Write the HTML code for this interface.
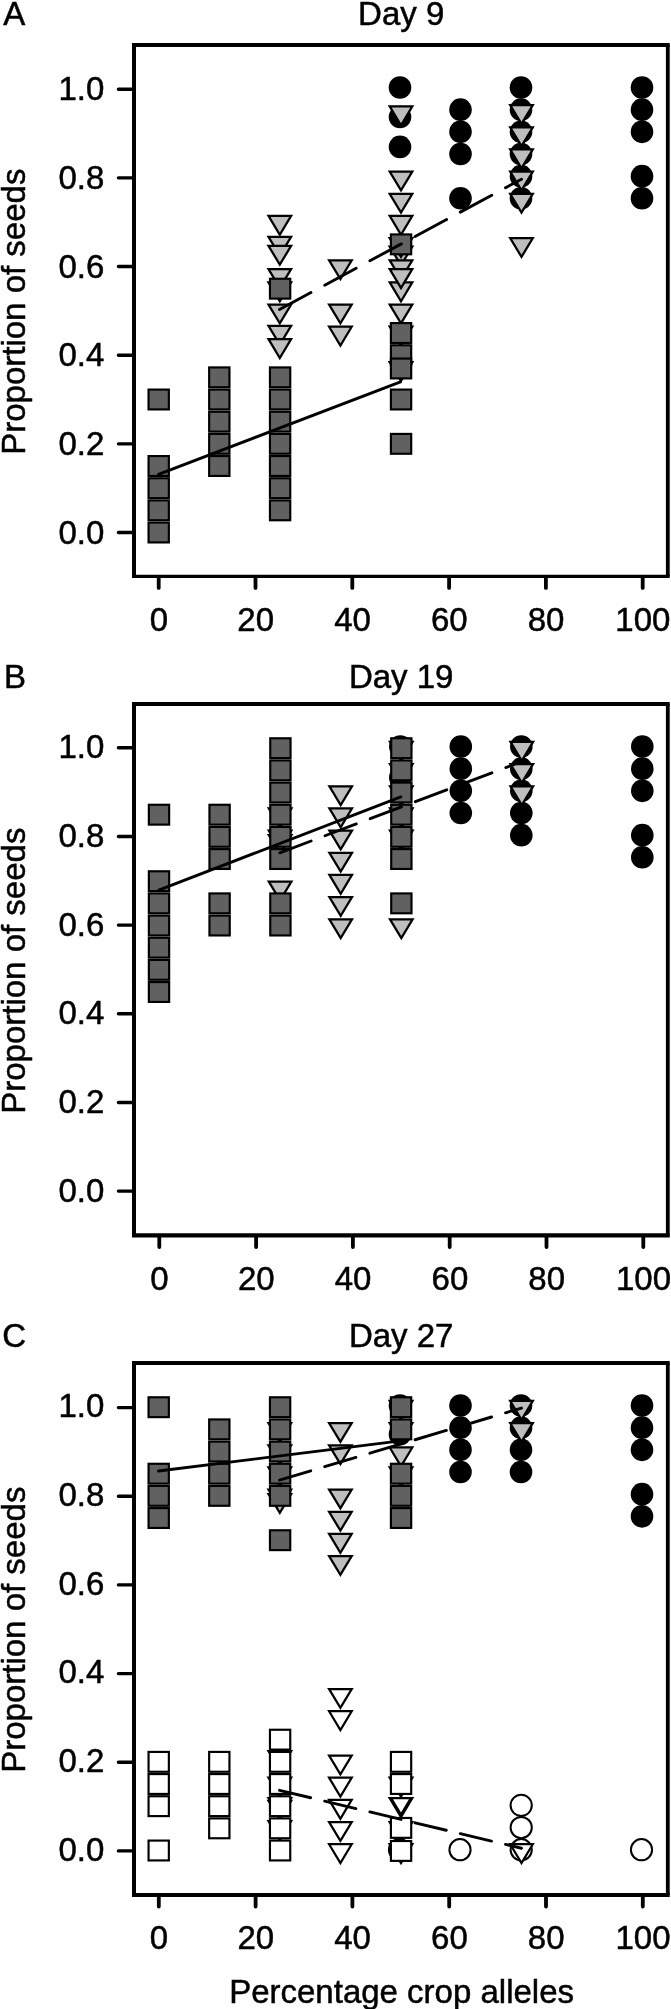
<!DOCTYPE html>
<html lang="en">
<head>
<meta charset="utf-8">
<title>Proportion of seeds vs percentage crop alleles</title>
<style>
html,body{margin:0;padding:0;background:#fff;}
body{width:671px;height:2009px;overflow:hidden;}
svg{display:block;will-change:transform;}
text{font-family:"Liberation Sans",Arial,Helvetica,sans-serif;fill:#000;stroke:#000;stroke-width:0.5px;}
</style>
</head>
<body>
<svg width="671" height="2009" viewBox="0 0 671 2009">
<rect width="671" height="2009" fill="#fff"/>
<g>
<circle cx="400.00" cy="87.50" r="11.3" fill="#000"/>
<circle cx="400.00" cy="116.98" r="11.3" fill="#000"/>
<circle cx="400.00" cy="146.90" r="11.3" fill="#000"/>
<circle cx="460.50" cy="109.67" r="11.3" fill="#000"/>
<circle cx="460.50" cy="131.83" r="11.3" fill="#000"/>
<circle cx="460.50" cy="154.00" r="11.3" fill="#000"/>
<circle cx="460.50" cy="198.32" r="11.3" fill="#000"/>
<circle cx="521.00" cy="87.50" r="11.3" fill="#000"/>
<circle cx="521.00" cy="109.67" r="11.3" fill="#000"/>
<circle cx="521.00" cy="131.83" r="11.3" fill="#000"/>
<circle cx="521.00" cy="154.00" r="11.3" fill="#000"/>
<circle cx="521.00" cy="176.16" r="11.3" fill="#000"/>
<circle cx="521.00" cy="198.32" r="11.3" fill="#000"/>
<circle cx="642.00" cy="87.50" r="11.3" fill="#000"/>
<circle cx="642.00" cy="109.67" r="11.3" fill="#000"/>
<circle cx="642.00" cy="131.83" r="11.3" fill="#000"/>
<circle cx="642.00" cy="176.16" r="11.3" fill="#000"/>
<circle cx="642.00" cy="198.32" r="11.3" fill="#000"/>
<path d="M268.50 215.91H291.10L279.80 234.74Z" fill="#bebebe" stroke="#000" stroke-width="2.25" stroke-linejoin="miter"/>
<path d="M268.50 236.75H291.10L279.80 255.58Z" fill="#bebebe" stroke="#000" stroke-width="2.25" stroke-linejoin="miter"/>
<path d="M268.50 245.84H291.10L279.80 264.66Z" fill="#bebebe" stroke="#000" stroke-width="2.25" stroke-linejoin="miter"/>
<path d="M268.50 269.11H291.10L279.80 287.94Z" fill="#bebebe" stroke="#000" stroke-width="2.25" stroke-linejoin="miter"/>
<path d="M268.50 282.41H291.10L279.80 301.23Z" fill="#bebebe" stroke="#000" stroke-width="2.25" stroke-linejoin="miter"/>
<path d="M268.50 304.58H291.10L279.80 323.40Z" fill="#bebebe" stroke="#000" stroke-width="2.25" stroke-linejoin="miter"/>
<path d="M268.50 325.85H291.10L279.80 344.68Z" fill="#bebebe" stroke="#000" stroke-width="2.25" stroke-linejoin="miter"/>
<path d="M268.50 339.15H291.10L279.80 357.98Z" fill="#bebebe" stroke="#000" stroke-width="2.25" stroke-linejoin="miter"/>
<path d="M329.10 260.25H351.70L340.40 279.07Z" fill="#bebebe" stroke="#000" stroke-width="2.25" stroke-linejoin="miter"/>
<path d="M329.10 304.58H351.70L340.40 323.40Z" fill="#bebebe" stroke="#000" stroke-width="2.25" stroke-linejoin="miter"/>
<path d="M329.10 326.74H351.70L340.40 345.56Z" fill="#bebebe" stroke="#000" stroke-width="2.25" stroke-linejoin="miter"/>
<path d="M389.70 106.42H412.30L401.00 125.24Z" fill="#bebebe" stroke="#000" stroke-width="2.25" stroke-linejoin="miter"/>
<path d="M389.70 171.58H412.30L401.00 190.41Z" fill="#bebebe" stroke="#000" stroke-width="2.25" stroke-linejoin="miter"/>
<path d="M389.70 193.75H412.30L401.00 212.57Z" fill="#bebebe" stroke="#000" stroke-width="2.25" stroke-linejoin="miter"/>
<path d="M389.70 215.91H412.30L401.00 234.74Z" fill="#bebebe" stroke="#000" stroke-width="2.25" stroke-linejoin="miter"/>
<path d="M389.70 246.50H412.30L401.00 265.33Z" fill="#bebebe" stroke="#000" stroke-width="2.25" stroke-linejoin="miter"/>
<path d="M389.70 238.08H412.30L401.00 256.90Z" fill="#bebebe" stroke="#000" stroke-width="2.25" stroke-linejoin="miter"/>
<path d="M389.70 260.25H412.30L401.00 279.07Z" fill="#bebebe" stroke="#000" stroke-width="2.25" stroke-linejoin="miter"/>
<path d="M389.70 282.41H412.30L401.00 301.23Z" fill="#bebebe" stroke="#000" stroke-width="2.25" stroke-linejoin="miter"/>
<path d="M389.70 269.11H412.30L401.00 287.94Z" fill="#bebebe" stroke="#000" stroke-width="2.25" stroke-linejoin="miter"/>
<path d="M389.70 304.58H412.30L401.00 323.40Z" fill="#bebebe" stroke="#000" stroke-width="2.25" stroke-linejoin="miter"/>
<path d="M389.70 326.74H412.30L401.00 345.56Z" fill="#bebebe" stroke="#000" stroke-width="2.25" stroke-linejoin="miter"/>
<path d="M389.70 362.20H412.30L401.00 381.03Z" fill="#bebebe" stroke="#000" stroke-width="2.25" stroke-linejoin="miter"/>
<path d="M510.20 105.09H532.80L521.50 123.92Z" fill="#bebebe" stroke="#000" stroke-width="2.25" stroke-linejoin="miter"/>
<path d="M510.20 127.25H532.80L521.50 146.08Z" fill="#bebebe" stroke="#000" stroke-width="2.25" stroke-linejoin="miter"/>
<path d="M510.20 149.42H532.80L521.50 168.25Z" fill="#bebebe" stroke="#000" stroke-width="2.25" stroke-linejoin="miter"/>
<path d="M510.20 171.58H532.80L521.50 190.41Z" fill="#bebebe" stroke="#000" stroke-width="2.25" stroke-linejoin="miter"/>
<path d="M510.20 193.75H532.80L521.50 212.57Z" fill="#bebebe" stroke="#000" stroke-width="2.25" stroke-linejoin="miter"/>
<path d="M510.20 238.08H532.80L521.50 256.90Z" fill="#bebebe" stroke="#000" stroke-width="2.25" stroke-linejoin="miter"/>
<rect x="148.55" y="389.58" width="20.30" height="19.85" fill="#616161" stroke="#000" stroke-width="2.15"/>
<rect x="148.55" y="456.08" width="20.30" height="19.85" fill="#616161" stroke="#000" stroke-width="2.15"/>
<rect x="148.55" y="478.25" width="20.30" height="19.85" fill="#616161" stroke="#000" stroke-width="2.15"/>
<rect x="148.55" y="500.41" width="20.30" height="19.85" fill="#616161" stroke="#000" stroke-width="2.15"/>
<rect x="148.55" y="522.58" width="20.30" height="19.85" fill="#616161" stroke="#000" stroke-width="2.15"/>
<rect x="209.15" y="367.42" width="20.30" height="19.85" fill="#616161" stroke="#000" stroke-width="2.15"/>
<rect x="209.15" y="389.58" width="20.30" height="19.85" fill="#616161" stroke="#000" stroke-width="2.15"/>
<rect x="209.15" y="411.75" width="20.30" height="19.85" fill="#616161" stroke="#000" stroke-width="2.15"/>
<rect x="209.15" y="433.91" width="20.30" height="19.85" fill="#616161" stroke="#000" stroke-width="2.15"/>
<rect x="209.15" y="456.08" width="20.30" height="19.85" fill="#616161" stroke="#000" stroke-width="2.15"/>
<rect x="269.95" y="278.76" width="20.30" height="19.85" fill="#616161" stroke="#000" stroke-width="2.15"/>
<rect x="269.95" y="367.42" width="20.30" height="19.85" fill="#616161" stroke="#000" stroke-width="2.15"/>
<rect x="269.95" y="389.58" width="20.30" height="19.85" fill="#616161" stroke="#000" stroke-width="2.15"/>
<rect x="269.95" y="411.75" width="20.30" height="19.85" fill="#616161" stroke="#000" stroke-width="2.15"/>
<rect x="269.95" y="433.91" width="20.30" height="19.85" fill="#616161" stroke="#000" stroke-width="2.15"/>
<rect x="269.95" y="456.08" width="20.30" height="19.85" fill="#616161" stroke="#000" stroke-width="2.15"/>
<rect x="269.95" y="478.25" width="20.30" height="19.85" fill="#616161" stroke="#000" stroke-width="2.15"/>
<rect x="269.95" y="500.41" width="20.30" height="19.85" fill="#616161" stroke="#000" stroke-width="2.15"/>
<rect x="390.90" y="234.43" width="20.30" height="19.85" fill="#616161" stroke="#000" stroke-width="2.15"/>
<rect x="390.90" y="323.09" width="20.30" height="19.85" fill="#616161" stroke="#000" stroke-width="2.15"/>
<rect x="390.90" y="345.25" width="20.30" height="19.85" fill="#616161" stroke="#000" stroke-width="2.15"/>
<rect x="390.90" y="358.55" width="20.30" height="19.85" fill="#616161" stroke="#000" stroke-width="2.15"/>
<rect x="390.90" y="389.58" width="20.30" height="19.85" fill="#616161" stroke="#000" stroke-width="2.15"/>
<rect x="390.90" y="433.91" width="20.30" height="19.85" fill="#616161" stroke="#000" stroke-width="2.15"/>
<line x1="158.50" y1="474.43" x2="400.50" y2="381.78" stroke="#000" stroke-width="2.9" stroke-linecap="round"/>
<line x1="279.50" y1="309.52" x2="521.50" y2="179.19" stroke="#000" stroke-width="2.9" stroke-linecap="round" stroke-dasharray="35.72 15.62"/>
<path d="M132.00 45.00H669.70" stroke="#000" stroke-width="4" fill="none"/>
<path d="M132.00 576.35H669.70" stroke="#000" stroke-width="3.1" fill="none"/>
<path d="M134.00 45.00V576.35" stroke="#000" stroke-width="4" fill="none"/>
<path d="M667.80 45.00V576.35" stroke="#000" stroke-width="3.8" fill="none"/>
<path d="M134.0 532.50H118.4M134.0 443.84H118.4M134.0 355.18H118.4M134.0 266.52H118.4M134.0 177.86H118.4M134.0 89.20H118.4" stroke="#000" stroke-width="3.4" stroke-linecap="round" fill="none"/>
<path d="M158.70 576.85V587.95M255.50 576.85V587.95M352.30 576.85V587.95M449.10 576.85V587.95M545.90 576.85V587.95M642.70 576.85V587.95" stroke="#000" stroke-width="3.8" stroke-linecap="round" fill="none"/>
<text x="104.3" y="543.50" text-anchor="end"  font-size="33.0">0.0</text>
<text x="104.3" y="454.84" text-anchor="end"  font-size="33.0">0.2</text>
<text x="104.3" y="366.18" text-anchor="end"  font-size="33.0">0.4</text>
<text x="104.3" y="277.52" text-anchor="end"  font-size="33.0">0.6</text>
<text x="104.3" y="188.86" text-anchor="end"  font-size="33.0">0.8</text>
<text x="104.3" y="100.20" text-anchor="end"  font-size="33.0">1.0</text>
<text x="158.90" y="630.60" text-anchor="middle"  font-size="33.0">0</text>
<text x="255.70" y="630.60" text-anchor="middle"  font-size="33.0">20</text>
<text x="352.50" y="630.60" text-anchor="middle"  font-size="33.0">40</text>
<text x="449.30" y="630.60" text-anchor="middle"  font-size="33.0">60</text>
<text x="546.10" y="630.60" text-anchor="middle"  font-size="33.0">80</text>
<text x="642.90" y="630.60" text-anchor="middle"  font-size="33.0">100</text>
<text x="401.2" y="24.60" text-anchor="middle"  font-size="33.0">Day 9</text>
<text x="3.20" y="24.60"  font-size="33.0">A</text>
<text transform="translate(25 311.70) rotate(-90)" text-anchor="middle"  font-size="33.0">Proportion of seeds</text>
</g>
<g>
<circle cx="400.30" cy="746.50" r="11.3" fill="#000"/>
<circle cx="400.30" cy="777.53" r="11.3" fill="#000"/>
<circle cx="460.80" cy="746.50" r="11.3" fill="#000"/>
<circle cx="460.80" cy="768.66" r="11.3" fill="#000"/>
<circle cx="460.80" cy="790.83" r="11.3" fill="#000"/>
<circle cx="460.80" cy="812.99" r="11.3" fill="#000"/>
<circle cx="521.30" cy="746.50" r="11.3" fill="#000"/>
<circle cx="521.30" cy="768.66" r="11.3" fill="#000"/>
<circle cx="521.30" cy="790.83" r="11.3" fill="#000"/>
<circle cx="521.30" cy="812.99" r="11.3" fill="#000"/>
<circle cx="521.30" cy="835.16" r="11.3" fill="#000"/>
<circle cx="642.30" cy="746.50" r="11.3" fill="#000"/>
<circle cx="642.30" cy="768.66" r="11.3" fill="#000"/>
<circle cx="642.30" cy="790.83" r="11.3" fill="#000"/>
<circle cx="642.30" cy="835.16" r="11.3" fill="#000"/>
<circle cx="642.30" cy="857.32" r="11.3" fill="#000"/>
<path d="M268.80 808.42H291.40L280.10 827.24Z" fill="#bebebe" stroke="#000" stroke-width="2.25" stroke-linejoin="miter"/>
<path d="M268.80 830.58H291.40L280.10 849.41Z" fill="#bebebe" stroke="#000" stroke-width="2.25" stroke-linejoin="miter"/>
<path d="M268.80 835.02H291.40L280.10 853.84Z" fill="#bebebe" stroke="#000" stroke-width="2.25" stroke-linejoin="miter"/>
<path d="M268.80 881.56H291.40L280.10 900.39Z" fill="#bebebe" stroke="#000" stroke-width="2.25" stroke-linejoin="miter"/>
<path d="M329.40 786.25H352.00L340.70 805.08Z" fill="#bebebe" stroke="#000" stroke-width="2.25" stroke-linejoin="miter"/>
<path d="M329.40 808.42H352.00L340.70 827.24Z" fill="#bebebe" stroke="#000" stroke-width="2.25" stroke-linejoin="miter"/>
<path d="M329.40 830.58H352.00L340.70 849.41Z" fill="#bebebe" stroke="#000" stroke-width="2.25" stroke-linejoin="miter"/>
<path d="M329.40 852.75H352.00L340.70 871.57Z" fill="#bebebe" stroke="#000" stroke-width="2.25" stroke-linejoin="miter"/>
<path d="M329.40 874.92H352.00L340.70 893.74Z" fill="#bebebe" stroke="#000" stroke-width="2.25" stroke-linejoin="miter"/>
<path d="M329.40 897.08H352.00L340.70 915.90Z" fill="#bebebe" stroke="#000" stroke-width="2.25" stroke-linejoin="miter"/>
<path d="M329.40 919.25H352.00L340.70 938.07Z" fill="#bebebe" stroke="#000" stroke-width="2.25" stroke-linejoin="miter"/>
<path d="M390.00 741.93H412.60L401.30 760.75Z" fill="#bebebe" stroke="#000" stroke-width="2.25" stroke-linejoin="miter"/>
<path d="M390.00 764.09H412.60L401.30 782.91Z" fill="#bebebe" stroke="#000" stroke-width="2.25" stroke-linejoin="miter"/>
<path d="M390.00 786.25H412.60L401.30 805.08Z" fill="#bebebe" stroke="#000" stroke-width="2.25" stroke-linejoin="miter"/>
<path d="M390.00 808.42H412.60L401.30 827.24Z" fill="#bebebe" stroke="#000" stroke-width="2.25" stroke-linejoin="miter"/>
<path d="M390.00 830.58H412.60L401.30 849.41Z" fill="#bebebe" stroke="#000" stroke-width="2.25" stroke-linejoin="miter"/>
<path d="M390.00 919.25H412.60L401.30 938.07Z" fill="#bebebe" stroke="#000" stroke-width="2.25" stroke-linejoin="miter"/>
<path d="M510.50 741.93H533.10L521.80 760.75Z" fill="#bebebe" stroke="#000" stroke-width="2.25" stroke-linejoin="miter"/>
<path d="M510.50 764.09H533.10L521.80 782.91Z" fill="#bebebe" stroke="#000" stroke-width="2.25" stroke-linejoin="miter"/>
<path d="M510.50 786.25H533.10L521.80 805.08Z" fill="#bebebe" stroke="#000" stroke-width="2.25" stroke-linejoin="miter"/>
<rect x="148.85" y="804.77" width="20.30" height="19.85" fill="#616161" stroke="#000" stroke-width="2.15"/>
<rect x="148.85" y="871.27" width="20.30" height="19.85" fill="#616161" stroke="#000" stroke-width="2.15"/>
<rect x="148.85" y="893.43" width="20.30" height="19.85" fill="#616161" stroke="#000" stroke-width="2.15"/>
<rect x="148.85" y="915.60" width="20.30" height="19.85" fill="#616161" stroke="#000" stroke-width="2.15"/>
<rect x="148.85" y="937.76" width="20.30" height="19.85" fill="#616161" stroke="#000" stroke-width="2.15"/>
<rect x="148.85" y="959.93" width="20.30" height="19.85" fill="#616161" stroke="#000" stroke-width="2.15"/>
<rect x="148.85" y="982.09" width="20.30" height="19.85" fill="#616161" stroke="#000" stroke-width="2.15"/>
<rect x="209.45" y="804.77" width="20.30" height="19.85" fill="#616161" stroke="#000" stroke-width="2.15"/>
<rect x="209.45" y="826.93" width="20.30" height="19.85" fill="#616161" stroke="#000" stroke-width="2.15"/>
<rect x="209.45" y="849.10" width="20.30" height="19.85" fill="#616161" stroke="#000" stroke-width="2.15"/>
<rect x="209.45" y="893.43" width="20.30" height="19.85" fill="#616161" stroke="#000" stroke-width="2.15"/>
<rect x="209.45" y="915.60" width="20.30" height="19.85" fill="#616161" stroke="#000" stroke-width="2.15"/>
<rect x="270.25" y="738.28" width="20.30" height="19.85" fill="#616161" stroke="#000" stroke-width="2.15"/>
<rect x="270.25" y="760.44" width="20.30" height="19.85" fill="#616161" stroke="#000" stroke-width="2.15"/>
<rect x="270.25" y="782.61" width="20.30" height="19.85" fill="#616161" stroke="#000" stroke-width="2.15"/>
<rect x="270.25" y="804.77" width="20.30" height="19.85" fill="#616161" stroke="#000" stroke-width="2.15"/>
<rect x="270.25" y="826.93" width="20.30" height="19.85" fill="#616161" stroke="#000" stroke-width="2.15"/>
<rect x="270.25" y="849.10" width="20.30" height="19.85" fill="#616161" stroke="#000" stroke-width="2.15"/>
<rect x="270.25" y="893.43" width="20.30" height="19.85" fill="#616161" stroke="#000" stroke-width="2.15"/>
<rect x="270.25" y="915.60" width="20.30" height="19.85" fill="#616161" stroke="#000" stroke-width="2.15"/>
<rect x="391.20" y="738.28" width="20.30" height="19.85" fill="#616161" stroke="#000" stroke-width="2.15"/>
<rect x="391.20" y="760.44" width="20.30" height="19.85" fill="#616161" stroke="#000" stroke-width="2.15"/>
<rect x="391.20" y="782.61" width="20.30" height="19.85" fill="#616161" stroke="#000" stroke-width="2.15"/>
<rect x="391.20" y="804.77" width="20.30" height="19.85" fill="#616161" stroke="#000" stroke-width="2.15"/>
<rect x="391.20" y="826.93" width="20.30" height="19.85" fill="#616161" stroke="#000" stroke-width="2.15"/>
<rect x="391.20" y="849.10" width="20.30" height="19.85" fill="#616161" stroke="#000" stroke-width="2.15"/>
<rect x="391.20" y="893.43" width="20.30" height="19.85" fill="#616161" stroke="#000" stroke-width="2.15"/>
<line x1="158.80" y1="890.06" x2="400.80" y2="796.96" stroke="#000" stroke-width="2.9" stroke-linecap="round"/>
<line x1="279.80" y1="852.82" x2="521.80" y2="761.50" stroke="#000" stroke-width="2.9" stroke-linecap="round" stroke-dasharray="33.44 14.87"/>
<path d="M132.00 704.00H669.70" stroke="#000" stroke-width="4" fill="none"/>
<path d="M132.00 1235.40H669.70" stroke="#000" stroke-width="4.1" fill="none"/>
<path d="M134.00 704.00V1235.40" stroke="#000" stroke-width="4" fill="none"/>
<path d="M667.80 704.00V1235.40" stroke="#000" stroke-width="3.8" fill="none"/>
<path d="M134.0 1191.10H118.4M134.0 1102.44H118.4M134.0 1013.78H118.4M134.0 925.12H118.4M134.0 836.46H118.4M134.0 747.80H118.4" stroke="#000" stroke-width="3.4" stroke-linecap="round" fill="none"/>
<path d="M159.30 1235.90V1247.00M256.10 1235.90V1247.00M352.90 1235.90V1247.00M449.70 1235.90V1247.00M546.50 1235.90V1247.00M643.30 1235.90V1247.00" stroke="#000" stroke-width="3.8" stroke-linecap="round" fill="none"/>
<text x="104.3" y="1201.50" text-anchor="end"  font-size="33.0">0.0</text>
<text x="104.3" y="1112.84" text-anchor="end"  font-size="33.0">0.2</text>
<text x="104.3" y="1024.18" text-anchor="end"  font-size="33.0">0.4</text>
<text x="104.3" y="935.52" text-anchor="end"  font-size="33.0">0.6</text>
<text x="104.3" y="846.86" text-anchor="end"  font-size="33.0">0.8</text>
<text x="104.3" y="758.20" text-anchor="end"  font-size="33.0">1.0</text>
<text x="159.50" y="1289.60" text-anchor="middle"  font-size="33.0">0</text>
<text x="256.30" y="1289.60" text-anchor="middle"  font-size="33.0">20</text>
<text x="353.10" y="1289.60" text-anchor="middle"  font-size="33.0">40</text>
<text x="449.90" y="1289.60" text-anchor="middle"  font-size="33.0">60</text>
<text x="546.70" y="1289.60" text-anchor="middle"  font-size="33.0">80</text>
<text x="643.50" y="1289.60" text-anchor="middle"  font-size="33.0">100</text>
<text x="401.2" y="687.60" text-anchor="middle"  font-size="33.0">Day 19</text>
<text x="3.90" y="687.60"  font-size="33.0">B</text>
<text transform="translate(25 970.70) rotate(-90)" text-anchor="middle"  font-size="33.0">Proportion of seeds</text>
</g>
<g>
<circle cx="400.00" cy="1405.50" r="11.3" fill="#000"/>
<circle cx="400.00" cy="1434.31" r="11.3" fill="#000"/>
<circle cx="460.50" cy="1405.50" r="11.3" fill="#000"/>
<circle cx="460.50" cy="1427.66" r="11.3" fill="#000"/>
<circle cx="460.50" cy="1449.83" r="11.3" fill="#000"/>
<circle cx="460.50" cy="1471.99" r="11.3" fill="#000"/>
<circle cx="521.00" cy="1405.50" r="11.3" fill="#000"/>
<circle cx="521.00" cy="1427.66" r="11.3" fill="#000"/>
<circle cx="521.00" cy="1449.83" r="11.3" fill="#000"/>
<circle cx="521.00" cy="1471.99" r="11.3" fill="#000"/>
<circle cx="642.00" cy="1405.50" r="11.3" fill="#000"/>
<circle cx="642.00" cy="1427.66" r="11.3" fill="#000"/>
<circle cx="642.00" cy="1449.83" r="11.3" fill="#000"/>
<circle cx="642.00" cy="1494.16" r="11.3" fill="#000"/>
<circle cx="642.00" cy="1516.33" r="11.3" fill="#000"/>
<circle cx="399.50" cy="1849.70" r="10.6" fill="#fff" stroke="#000" stroke-width="2.0"/>
<circle cx="460.00" cy="1849.70" r="10.6" fill="#fff" stroke="#000" stroke-width="2.0"/>
<circle cx="521.20" cy="1805.37" r="10.6" fill="#fff" stroke="#000" stroke-width="2.0"/>
<circle cx="521.20" cy="1827.54" r="10.6" fill="#fff" stroke="#000" stroke-width="2.0"/>
<circle cx="521.20" cy="1849.70" r="10.6" fill="#fff" stroke="#000" stroke-width="2.0"/>
<circle cx="641.50" cy="1849.70" r="10.6" fill="#fff" stroke="#000" stroke-width="2.0"/>
<path d="M268.50 1423.09H291.10L279.80 1441.91Z" fill="#bebebe" stroke="#000" stroke-width="2.25" stroke-linejoin="miter"/>
<path d="M268.50 1445.25H291.10L279.80 1464.08Z" fill="#bebebe" stroke="#000" stroke-width="2.25" stroke-linejoin="miter"/>
<path d="M268.50 1467.42H291.10L279.80 1486.24Z" fill="#bebebe" stroke="#000" stroke-width="2.25" stroke-linejoin="miter"/>
<path d="M268.50 1489.58H291.10L279.80 1508.41Z" fill="#bebebe" stroke="#000" stroke-width="2.25" stroke-linejoin="miter"/>
<path d="M268.50 1494.02H291.10L279.80 1512.84Z" fill="#bebebe" stroke="#000" stroke-width="2.25" stroke-linejoin="miter"/>
<path d="M329.10 1423.09H351.70L340.40 1441.91Z" fill="#bebebe" stroke="#000" stroke-width="2.25" stroke-linejoin="miter"/>
<path d="M329.10 1445.25H351.70L340.40 1464.08Z" fill="#bebebe" stroke="#000" stroke-width="2.25" stroke-linejoin="miter"/>
<path d="M329.10 1489.58H351.70L340.40 1508.41Z" fill="#bebebe" stroke="#000" stroke-width="2.25" stroke-linejoin="miter"/>
<path d="M329.10 1511.75H351.70L340.40 1530.58Z" fill="#bebebe" stroke="#000" stroke-width="2.25" stroke-linejoin="miter"/>
<path d="M329.10 1533.91H351.70L340.40 1552.74Z" fill="#bebebe" stroke="#000" stroke-width="2.25" stroke-linejoin="miter"/>
<path d="M329.10 1556.08H351.70L340.40 1574.90Z" fill="#bebebe" stroke="#000" stroke-width="2.25" stroke-linejoin="miter"/>
<path d="M389.70 1400.92H412.30L401.00 1419.75Z" fill="#bebebe" stroke="#000" stroke-width="2.25" stroke-linejoin="miter"/>
<path d="M389.70 1423.09H412.30L401.00 1441.91Z" fill="#bebebe" stroke="#000" stroke-width="2.25" stroke-linejoin="miter"/>
<path d="M389.70 1447.47H412.30L401.00 1466.30Z" fill="#bebebe" stroke="#000" stroke-width="2.25" stroke-linejoin="miter"/>
<path d="M389.70 1467.42H412.30L401.00 1486.24Z" fill="#bebebe" stroke="#000" stroke-width="2.25" stroke-linejoin="miter"/>
<path d="M510.20 1400.92H532.80L521.50 1419.75Z" fill="#bebebe" stroke="#000" stroke-width="2.25" stroke-linejoin="miter"/>
<path d="M510.20 1423.09H532.80L521.50 1441.91Z" fill="#bebebe" stroke="#000" stroke-width="2.25" stroke-linejoin="miter"/>
<path d="M268.50 1751.13H291.10L279.80 1769.96Z" fill="#fff" stroke="#000" stroke-width="2.25" stroke-linejoin="miter"/>
<path d="M268.50 1777.73H291.10L279.80 1796.56Z" fill="#fff" stroke="#000" stroke-width="2.25" stroke-linejoin="miter"/>
<path d="M268.50 1798.12H291.10L279.80 1816.95Z" fill="#fff" stroke="#000" stroke-width="2.25" stroke-linejoin="miter"/>
<path d="M268.50 1800.78H291.10L279.80 1819.61Z" fill="#fff" stroke="#000" stroke-width="2.25" stroke-linejoin="miter"/>
<path d="M268.50 1821.17H291.10L279.80 1840.00Z" fill="#fff" stroke="#000" stroke-width="2.25" stroke-linejoin="miter"/>
<path d="M329.10 1689.07H351.70L340.40 1707.89Z" fill="#fff" stroke="#000" stroke-width="2.25" stroke-linejoin="miter"/>
<path d="M329.10 1711.23H351.70L340.40 1730.06Z" fill="#fff" stroke="#000" stroke-width="2.25" stroke-linejoin="miter"/>
<path d="M329.10 1755.56H351.70L340.40 1774.39Z" fill="#fff" stroke="#000" stroke-width="2.25" stroke-linejoin="miter"/>
<path d="M329.10 1777.73H351.70L340.40 1796.56Z" fill="#fff" stroke="#000" stroke-width="2.25" stroke-linejoin="miter"/>
<path d="M329.10 1799.89H351.70L340.40 1818.72Z" fill="#fff" stroke="#000" stroke-width="2.25" stroke-linejoin="miter"/>
<path d="M329.10 1822.06H351.70L340.40 1840.88Z" fill="#fff" stroke="#000" stroke-width="2.25" stroke-linejoin="miter"/>
<path d="M329.10 1844.22H351.70L340.40 1863.05Z" fill="#fff" stroke="#000" stroke-width="2.25" stroke-linejoin="miter"/>
<path d="M389.70 1777.73H412.30L401.00 1796.56Z" fill="#fff" stroke="#000" stroke-width="2.25" stroke-linejoin="miter"/>
<path d="M389.70 1798.12H412.30L401.00 1816.95Z" fill="#fff" stroke="#000" stroke-width="2.25" stroke-linejoin="miter"/>
<path d="M391.05 1798.12H410.95L401.00 1814.70Z" fill="#fff" stroke="#000" stroke-width="2.25" stroke-linejoin="miter"/>
<path d="M389.70 1822.06H412.30L401.00 1840.88Z" fill="#fff" stroke="#000" stroke-width="2.25" stroke-linejoin="miter"/>
<path d="M389.70 1844.22H412.30L401.00 1863.05Z" fill="#fff" stroke="#000" stroke-width="2.25" stroke-linejoin="miter"/>
<path d="M510.20 1844.22H532.80L521.50 1863.05Z" fill="#fff" stroke="#000" stroke-width="2.25" stroke-linejoin="miter"/>
<rect x="148.55" y="1397.28" width="20.30" height="19.85" fill="#616161" stroke="#000" stroke-width="2.15"/>
<rect x="148.55" y="1463.77" width="20.30" height="19.85" fill="#616161" stroke="#000" stroke-width="2.15"/>
<rect x="148.55" y="1485.93" width="20.30" height="19.85" fill="#616161" stroke="#000" stroke-width="2.15"/>
<rect x="148.55" y="1508.10" width="20.30" height="19.85" fill="#616161" stroke="#000" stroke-width="2.15"/>
<rect x="209.15" y="1419.44" width="20.30" height="19.85" fill="#616161" stroke="#000" stroke-width="2.15"/>
<rect x="209.15" y="1441.61" width="20.30" height="19.85" fill="#616161" stroke="#000" stroke-width="2.15"/>
<rect x="209.15" y="1463.77" width="20.30" height="19.85" fill="#616161" stroke="#000" stroke-width="2.15"/>
<rect x="209.15" y="1485.93" width="20.30" height="19.85" fill="#616161" stroke="#000" stroke-width="2.15"/>
<rect x="269.95" y="1397.28" width="20.30" height="19.85" fill="#616161" stroke="#000" stroke-width="2.15"/>
<rect x="269.95" y="1419.44" width="20.30" height="19.85" fill="#616161" stroke="#000" stroke-width="2.15"/>
<rect x="269.95" y="1441.61" width="20.30" height="19.85" fill="#616161" stroke="#000" stroke-width="2.15"/>
<rect x="269.95" y="1463.77" width="20.30" height="19.85" fill="#616161" stroke="#000" stroke-width="2.15"/>
<rect x="269.95" y="1485.93" width="20.30" height="19.85" fill="#616161" stroke="#000" stroke-width="2.15"/>
<rect x="269.95" y="1530.27" width="20.30" height="19.85" fill="#616161" stroke="#000" stroke-width="2.15"/>
<rect x="390.90" y="1397.28" width="20.30" height="19.85" fill="#616161" stroke="#000" stroke-width="2.15"/>
<rect x="390.90" y="1419.44" width="20.30" height="19.85" fill="#616161" stroke="#000" stroke-width="2.15"/>
<rect x="390.90" y="1463.77" width="20.30" height="19.85" fill="#616161" stroke="#000" stroke-width="2.15"/>
<rect x="390.90" y="1485.93" width="20.30" height="19.85" fill="#616161" stroke="#000" stroke-width="2.15"/>
<rect x="390.90" y="1508.10" width="20.30" height="19.85" fill="#616161" stroke="#000" stroke-width="2.15"/>
<rect x="148.55" y="1751.91" width="20.30" height="19.85" fill="#fff" stroke="#000" stroke-width="2.15"/>
<rect x="148.55" y="1774.08" width="20.30" height="19.85" fill="#fff" stroke="#000" stroke-width="2.15"/>
<rect x="148.55" y="1796.25" width="20.30" height="19.85" fill="#fff" stroke="#000" stroke-width="2.15"/>
<rect x="148.55" y="1840.58" width="20.30" height="19.85" fill="#fff" stroke="#000" stroke-width="2.15"/>
<rect x="209.15" y="1751.91" width="20.30" height="19.85" fill="#fff" stroke="#000" stroke-width="2.15"/>
<rect x="209.15" y="1774.08" width="20.30" height="19.85" fill="#fff" stroke="#000" stroke-width="2.15"/>
<rect x="209.15" y="1796.25" width="20.30" height="19.85" fill="#fff" stroke="#000" stroke-width="2.15"/>
<rect x="209.15" y="1818.41" width="20.30" height="19.85" fill="#fff" stroke="#000" stroke-width="2.15"/>
<rect x="269.95" y="1729.75" width="20.30" height="19.85" fill="#fff" stroke="#000" stroke-width="2.15"/>
<rect x="269.95" y="1751.91" width="20.30" height="19.85" fill="#fff" stroke="#000" stroke-width="2.15"/>
<rect x="269.95" y="1774.08" width="20.30" height="19.85" fill="#fff" stroke="#000" stroke-width="2.15"/>
<rect x="269.95" y="1796.25" width="20.30" height="19.85" fill="#fff" stroke="#000" stroke-width="2.15"/>
<rect x="269.95" y="1818.41" width="20.30" height="19.85" fill="#fff" stroke="#000" stroke-width="2.15"/>
<rect x="269.95" y="1840.58" width="20.30" height="19.85" fill="#fff" stroke="#000" stroke-width="2.15"/>
<rect x="390.90" y="1751.91" width="20.30" height="19.85" fill="#fff" stroke="#000" stroke-width="2.15"/>
<rect x="390.90" y="1774.08" width="20.30" height="19.85" fill="#fff" stroke="#000" stroke-width="2.15"/>
<rect x="390.90" y="1817.97" width="20.30" height="19.85" fill="#fff" stroke="#000" stroke-width="2.15"/>
<rect x="390.90" y="1841.02" width="20.30" height="19.85" fill="#fff" stroke="#000" stroke-width="2.15"/>
<line x1="158.50" y1="1471.04" x2="400.50" y2="1440.89" stroke="#000" stroke-width="2.9" stroke-linecap="round"/>
<line x1="279.50" y1="1480.12" x2="521.50" y2="1408.09" stroke="#000" stroke-width="2.9" stroke-linecap="round" stroke-dasharray="32.57 14.59"/>
<line x1="279.50" y1="1790.30" x2="521.50" y2="1848.28" stroke="#000" stroke-width="2.9" stroke-linecap="round" stroke-dasharray="32.06 14.42"/>
<path d="M132.00 1363.00H669.70" stroke="#000" stroke-width="4" fill="none"/>
<path d="M132.00 1894.95H669.70" stroke="#000" stroke-width="4.0" fill="none"/>
<path d="M134.00 1363.00V1894.95" stroke="#000" stroke-width="4" fill="none"/>
<path d="M667.80 1363.00V1894.95" stroke="#000" stroke-width="3.8" fill="none"/>
<path d="M134.0 1850.90H118.4M134.0 1762.24H118.4M134.0 1673.58H118.4M134.0 1584.92H118.4M134.0 1496.26H118.4M134.0 1407.60H118.4" stroke="#000" stroke-width="3.4" stroke-linecap="round" fill="none"/>
<path d="M158.80 1895.45V1906.55M255.60 1895.45V1906.55M352.40 1895.45V1906.55M449.20 1895.45V1906.55M546.00 1895.45V1906.55M642.80 1895.45V1906.55" stroke="#000" stroke-width="3.8" stroke-linecap="round" fill="none"/>
<text x="104.3" y="1860.60" text-anchor="end"  font-size="33.0">0.0</text>
<text x="104.3" y="1771.94" text-anchor="end"  font-size="33.0">0.2</text>
<text x="104.3" y="1683.28" text-anchor="end"  font-size="33.0">0.4</text>
<text x="104.3" y="1594.62" text-anchor="end"  font-size="33.0">0.6</text>
<text x="104.3" y="1505.96" text-anchor="end"  font-size="33.0">0.8</text>
<text x="104.3" y="1417.30" text-anchor="end"  font-size="33.0">1.0</text>
<text x="159.00" y="1948.60" text-anchor="middle"  font-size="33.0">0</text>
<text x="255.80" y="1948.60" text-anchor="middle"  font-size="33.0">20</text>
<text x="352.60" y="1948.60" text-anchor="middle"  font-size="33.0">40</text>
<text x="449.40" y="1948.60" text-anchor="middle"  font-size="33.0">60</text>
<text x="546.20" y="1948.60" text-anchor="middle"  font-size="33.0">80</text>
<text x="643.00" y="1948.60" text-anchor="middle"  font-size="33.0">100</text>
<text x="401.2" y="1346.60" text-anchor="middle"  font-size="33.0">Day 27</text>
<text x="2.30" y="1346.60"  font-size="33.0">C</text>
<text transform="translate(25 1629.70) rotate(-90)" text-anchor="middle"  font-size="33.0">Proportion of seeds</text>
</g>
<text x="401.6" y="2002.5" text-anchor="middle"  font-size="33.0">Percentage crop alleles</text>
</svg>
</body>
</html>
